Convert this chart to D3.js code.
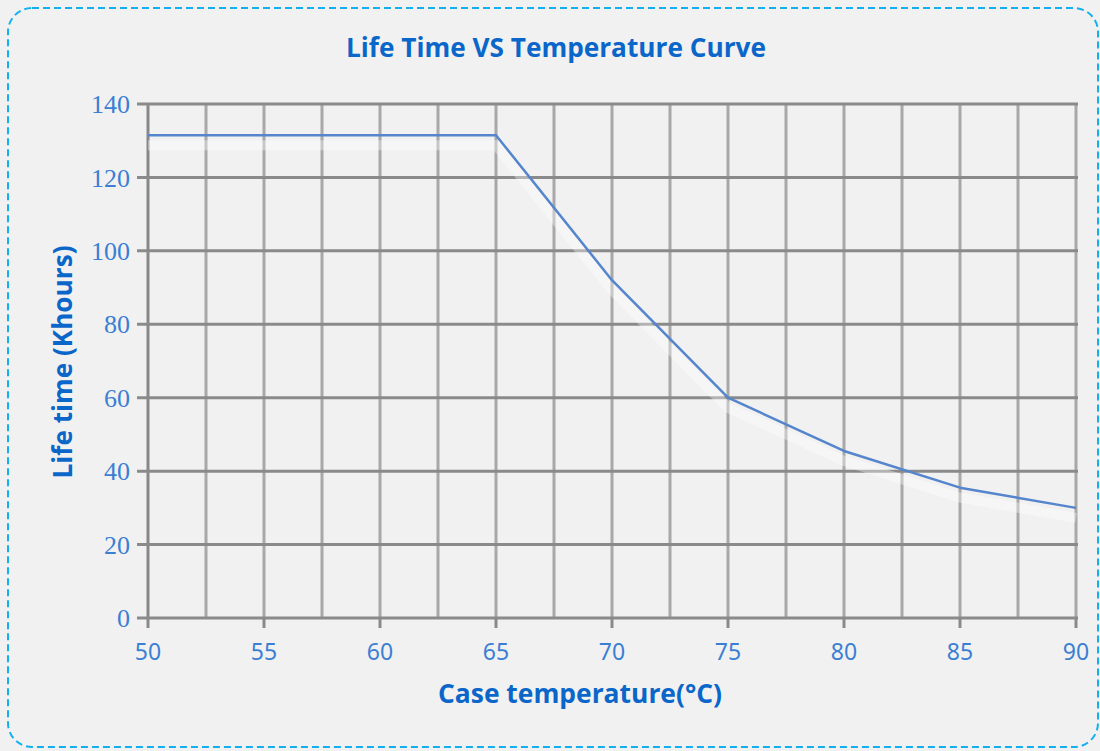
<!DOCTYPE html>
<html><head><meta charset="utf-8">
<script src="https://cdn.jsdelivr.net/npm/d3@7"></script>
<style>html,body{margin:0;padding:0;background:#f1f1f1;}</style>
</head><body>
<svg id="c" width="1100" height="751"></svg>
<script>
const temps = [50, 55, 60, 65, 70, 75, 80, 85, 90];
const lifeK = [131.5, 131.5, 131.5, 131.5, 92, 60, 45.5, 35.5, 30];
const xTicks = [50, 55, 60, 65, 70, 75, 80, 85, 90];
const yTicks = [0, 20, 40, 60, 80, 100, 120, 140];
const xGrid = d3.range(50, 90.01, 2.5);
const title = "Life Time VS Temperature Curve";
const xTitle = "Case temperature(°C)";
const yTitle = "Life time (Khours)";

const svg = d3.select("#c");
const blue = "#0a66c9", tickBlue = "#3b7fd3";
svg.append("rect").attr("x",0).attr("y",0).attr("width",1100).attr("height",751).attr("fill","#f1f1f1");
svg.append("rect").attr("x",8).attr("y",8).attr("width",1090).attr("height",739).attr("rx",24).attr("ry",24)
  .attr("fill","#f1f1f1").attr("stroke","#12b0ee").attr("stroke-width",2).attr("stroke-dasharray","7,4");

const x = d3.scaleLinear().domain([50,90]).range([148,1076]);
const y = d3.scaleLinear().domain([0,140]).range([618,104]);

svg.append("g").selectAll("line").data(xGrid).join("line")
  .attr("x1",d=>x(d)).attr("x2",d=>x(d)).attr("y1",y(140)).attr("y2",y(0))
  .attr("stroke",d=>d===50?"#888":"#a8a8a8").attr("stroke-width",3);
svg.append("g").selectAll("line").data(yTicks).join("line")
  .attr("x1",137).attr("x2",x(90)+2).attr("y1",d=>y(d)).attr("y2",d=>y(d))
  .attr("stroke","#8a8a8a").attr("stroke-width",3);
svg.append("g").selectAll("line").data(xTicks).join("line")
  .attr("x1",d=>x(d)).attr("x2",d=>x(d)).attr("y1",y(0)).attr("y2",y(0)+10)
  .attr("stroke","#8a8a8a").attr("stroke-width",3);

svg.append("g").selectAll("text").data(yTicks).join("text")
  .attr("x",130).attr("y",d=>y(d)).attr("dy","0.35em").attr("text-anchor","end")
  .attr("font-family","Liberation Serif, serif").attr("font-size",26).attr("fill",tickBlue).text(d=>d);
svg.append("g").selectAll("text").data(xTicks).join("text")
  .attr("x",d=>x(d)).attr("y",660).attr("text-anchor","middle")
  .attr("font-family","Noto Sans, sans-serif").attr("font-size",23).attr("fill",tickBlue).text(d=>d);

const line = d3.line().x((d,i)=>x(temps[i])).y(d=>y(d));
svg.append("path").datum(lifeK).attr("d",line).attr("fill","none")
  .attr("stroke","#ffffff").attr("stroke-width",10).attr("opacity",0.35)
  .attr("transform","translate(0,10)");
svg.append("path").datum(lifeK).attr("d",line).attr("fill","none")
  .attr("stroke","#5585cc").attr("stroke-width",2.5).attr("stroke-linejoin","round");

svg.append("text").attr("x",556).attr("y",57).attr("text-anchor","middle")
  .attr("font-family","Open Sans, sans-serif").attr("font-weight","bold").attr("font-size",26)
  .attr("fill",blue).attr("textLength",420).attr("lengthAdjust","spacingAndGlyphs").text(title);
svg.append("text").attr("x",580).attr("y",703).attr("text-anchor","middle")
  .attr("font-family","Open Sans, sans-serif").attr("font-weight","bold").attr("font-size",26)
  .attr("fill",blue).attr("textLength",284).attr("lengthAdjust","spacingAndGlyphs").text(xTitle);
svg.append("text").attr("transform","translate(72,362) rotate(-90)").attr("text-anchor","middle")
  .attr("font-family","Open Sans, sans-serif").attr("font-weight","bold").attr("font-size",26)
  .attr("fill",blue).attr("textLength",233).attr("lengthAdjust","spacingAndGlyphs").text(yTitle);
</script>
</body></html>
